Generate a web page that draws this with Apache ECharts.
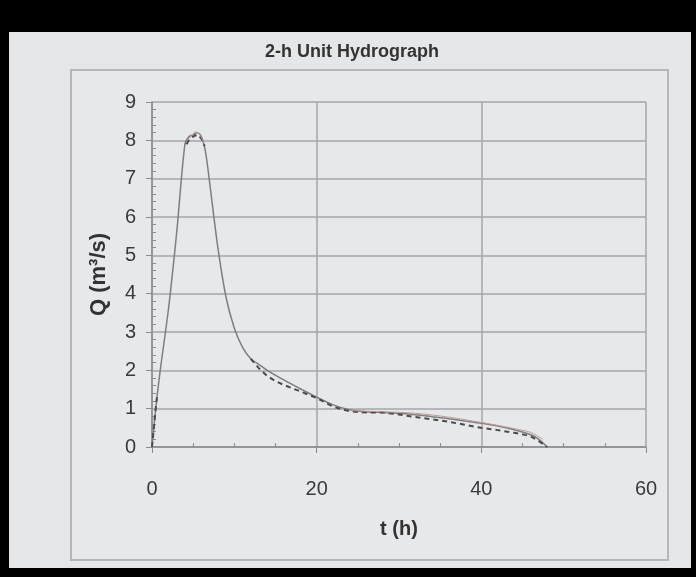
<!DOCTYPE html>
<html lang="en">
<head>
  <meta charset="UTF-8">
  <title>2-h Unit Hydrograph</title>
  <script src="https://cdn.jsdelivr.net/npm/echarts@6/dist/echarts.min.js"></script>
  <style>
    html, body { margin: 0; padding: 0; background: #000; }
  </style>
</head>
<body>
<div id="main" style="width: 696px;height:577px;"></div>
<script type="text/javascript">

// solid curve (unit hydrograph)
const tSolid = [0, 0.5, 1, 2, 3, 4, 4.5, 5, 5.5, 6, 6.5, 7, 8, 9, 10, 11, 12, 13, 14, 16, 18, 20, 22, 24, 26, 28, 30, 32, 34, 36, 38, 40, 42, 44, 46, 47, 48];
const qSolid = [0, 1.1, 2.0, 3.6, 5.6, 7.9, 8.1, 8.15, 8.2, 8.1, 7.7, 6.9, 5.2, 3.9, 3.1, 2.6, 2.3, 2.15, 2.0, 1.75, 1.52, 1.3, 1.1, 0.97, 0.92, 0.9, 0.88, 0.84, 0.79, 0.74, 0.68, 0.62, 0.55, 0.45, 0.32, 0.2, 0];

// dashed curve ('-' = break in the line)
const tDash = [0, 0.2, 0.4, 0.6, 2, 4.2, 4.6, 5, 5.5, 6, 6.4, 9, 12, 13, 14, 15, 16, 18, 20, 22, 24, 26, 28, 30, 32, 34, 36, 38, 40, 42, 44, 45, 46, 47, 48];
const qDash = [0, 0.45, 0.9, 1.3, '-', 7.9, 8.05, 8.1, 8.15, 8.05, 7.85, '-', 2.3, 2.05, 1.85, 1.72, 1.62, 1.45, 1.28, 1.05, 0.93, 0.9, 0.9, 0.85, 0.78, 0.72, 0.66, 0.58, 0.5, 0.44, 0.37, 0.33, 0.28, 0.15, 0];

// reddish curve
const tRed = [4.3, 4.8, 5.3, 5.8, 6.3, 15, 24, 28, 32, 36, 40, 44, 46, 47.5];
const qRed = [8.0, 8.12, 8.22, 8.15, 7.95, '-', 0.95, 0.92, 0.88, 0.78, 0.64, 0.48, 0.38, 0.2];

function pairs(xs, ys) {
  return xs.map(function (x, i) { return [x, ys[i]]; });
}

const myChart = echarts.init(document.getElementById('main'));
const font = 'Liberation Sans, Arial, sans-serif';

const option = {
  backgroundColor: '#000',
  animation: false,
  graphic: [
    {type: 'rect', shape: {x: 9, y: 32, width: 682, height: 536}, style: {fill: '#e4e6e8'}, z: -10},
    {type: 'rect', shape: {x: 71, y: 70, width: 597, height: 490}, style: {fill: '#e6e8ea', stroke: '#b4b6b8', lineWidth: 2}, z: -9},
    {type: 'text', left: 265, top: 43, style: {text: '2-h Unit Hydrograph', font: 'bold 18px ' + font, fill: '#333'}}
  ],
  grid: {left: 152, right: 50, top: 102, bottom: 130, show: false},
  xAxis: [
    {
      type: 'value', min: 0, max: 60, interval: 20,
      name: 't (h)', nameLocation: 'middle', nameGap: 72,
      nameTextStyle: {fontFamily: font, fontWeight: 'bold', fontSize: 20, color: '#333'},
      axisLine: {show: true, lineStyle: {color: '#8a8c8e', width: 1.5}},
      axisTick: {show: true, length: 6, lineStyle: {color: '#8a8c8e'}},
      axisLabel: {margin: 32, fontFamily: font, fontSize: 20, color: '#3a3a3a'},
      splitLine: {show: true, lineStyle: {color: '#a4a6a8', width: 1.5}}
    },
    {
      type: 'value', min: 0, max: 60, interval: 20, position: 'bottom',
      axisLine: {show: false}, axisLabel: {show: false}, splitLine: {show: false},
      axisTick: {show: false, inside: true},
      minorTick: {show: true, splitNumber: 4, length: 4, lineStyle: {color: '#8a8c8e'}}
    }
  ],
  yAxis: [
    {
      type: 'value', min: 0, max: 9, interval: 1,
      name: 'Q (m³/s)', nameLocation: 'middle', nameGap: 42,
      nameTextStyle: {fontFamily: font, fontWeight: 'bold', fontSize: 22, color: '#333'},
      axisLine: {show: true, lineStyle: {color: '#8a8c8e', width: 1.5}},
      axisTick: {show: true, length: 6, lineStyle: {color: '#8a8c8e'}},
      axisLabel: {margin: 16, fontFamily: font, fontSize: 20, color: '#3a3a3a'},
      splitLine: {show: true, lineStyle: {color: '#a4a6a8', width: 1.5}}
    },
    {
      type: 'value', min: 0, max: 9, interval: 1, position: 'left',
      axisLine: {show: false}, axisLabel: {show: false}, splitLine: {show: false},
      axisTick: {show: false, inside: true},
      minorTick: {show: true, splitNumber: 5, length: 4, lineStyle: {color: '#8a8c8e'}}
    }
  ],
  series: [
    {
      type: 'line', name: 'UH', data: pairs(tSolid, qSolid), smooth: 0.3, showSymbol: false,
      lineStyle: {color: '#7c7e80', width: 1.5}
    },
    {
      type: 'line', name: 'dashed', data: pairs(tDash, qDash), showSymbol: false,
      lineStyle: {color: '#4a4a4a', width: 2, type: [5, 4]}
    },
    {
      type: 'line', name: 'red', data: pairs(tRed, qRed), smooth: 0.3, showSymbol: false,
      lineStyle: {color: '#c89a9a', width: 1}
    }
  ]
};
myChart.setOption(option);
</script>
</body>
</html>
